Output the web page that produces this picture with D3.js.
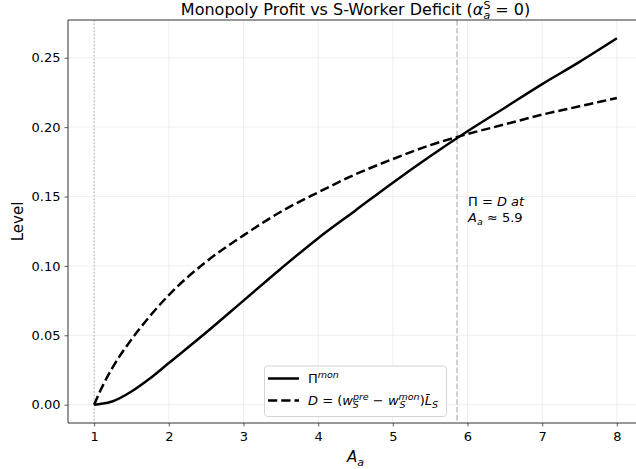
<!DOCTYPE html>
<html><head><meta charset="utf-8">
<script src="https://cdn.jsdelivr.net/npm/d3@7"></script>
<style>
body{margin:0;background:#fff;}
text{font-family:"DejaVu Sans",sans-serif;fill:#000;}
</style></head>
<body>
<svg id="c" width="636" height="469"></svg>
<script>
const A_vals = [1, 1.1, 1.25, 1.5, 1.75, 2, 2.5, 3, 3.5, 4, 4.5, 5, 5.5, 6, 6.5, 7, 7.5, 8];
const profit = [0, 0.0006, 0.0025, 0.0095, 0.019, 0.030, 0.052, 0.075, 0.098, 0.120, 0.140, 0.160, 0.179, 0.197, 0.214, 0.231, 0.247, 0.264];
const deficit = [0, 0.012, 0.027, 0.047, 0.064, 0.079, 0.103, 0.122, 0.139, 0.153, 0.166, 0.177, 0.187, 0.195, 0.202, 0.209, 0.215, 0.221];
const crossA = 5.86;
const xTicks = [1, 2, 3, 4, 5, 6, 7, 8];
const yTicks = [0, 0.05, 0.10, 0.15, 0.20, 0.25];

const svg = d3.select("#c");
const L = 68, R = 643, T = 20, B = 423;
const x = d3.scaleLinear().domain([0.65, 8.35]).range([L, R]);
const y = d3.scaleLinear().domain([-0.0132, 0.2772]).range([B, T]);

// grid
const grid = svg.append("g");
xTicks.forEach(t => grid.append("line").attr("x1", x(t)).attr("x2", x(t)).attr("y1", T).attr("y2", B).attr("stroke", "#ebebeb").attr("stroke-width", 0.8));
yTicks.forEach(t => grid.append("line").attr("x1", L).attr("x2", R).attr("y1", y(t)).attr("y2", y(t)).attr("stroke", "#ebebeb").attr("stroke-width", 0.8));

// reference lines
svg.append("line").attr("x1", x(1)).attr("x2", x(1)).attr("y1", T).attr("y2", B)
  .attr("stroke", "#b0b0b0").attr("stroke-width", 1).attr("stroke-dasharray", "1.5,2");
svg.append("line").attr("x1", x(crossA)).attr("x2", x(crossA)).attr("y1", T).attr("y2", B)
  .attr("stroke", "#c0c0c0").attr("stroke-width", 1.5).attr("stroke-dasharray", "5.5,2.4");

const line = d3.line().x((d, i) => x(A_vals[i])).y(d => y(d)).curve(d3.curveMonotoneX);
svg.append("path").attr("d", line(profit)).attr("fill", "none").attr("stroke", "#000").attr("stroke-width", 2.5);
svg.append("path").attr("d", line(deficit)).attr("fill", "none").attr("stroke", "#000").attr("stroke-width", 2.5).attr("stroke-dasharray", "9.25,4");

// axes
const xAxis = svg.append("g").attr("transform", `translate(0,${B})`).call(d3.axisBottom(x).tickValues(xTicks).tickSize(3.5).tickPadding(5).tickFormat(d3.format("d")));
const yAxis = svg.append("g").attr("transform", `translate(${L},0)`).call(d3.axisLeft(y).tickValues(yTicks).tickSize(3.5).tickPadding(4).tickFormat(d3.format(".2f")));
[xAxis, yAxis].forEach(g => {
  g.select(".domain").remove();
  g.selectAll("line").attr("stroke", "#333").attr("stroke-width", 0.8);
  g.selectAll("text").style("font-family", "DejaVu Sans").style("font-size", "13px").attr("fill", "#000");
});
// spines
svg.append("line").attr("x1", L).attr("x2", L).attr("y1", T).attr("y2", B).attr("stroke", "#333").attr("stroke-width", 1);
svg.append("line").attr("x1", L).attr("x2", R).attr("y1", B).attr("y2", B).attr("stroke", "#333").attr("stroke-width", 1);
svg.append("line").attr("x1", L).attr("x2", R).attr("y1", T).attr("y2", T).attr("stroke", "#333").attr("stroke-width", 1);

// title
const title = svg.append("text").attr("x", (L + R) / 2).attr("y", 14.5).attr("text-anchor", "middle").style("font-size", "16px");
title.append("tspan").text("Monopoly Profit vs S-Worker Deficit (");
title.append("tspan").attr("font-style", "italic").text("α");
title.append("tspan").attr("dy", -5.5).style("font-size", "11px").text("S");
title.append("tspan").attr("dx", -7).attr("dy", 9.5).style("font-size", "11px").attr("font-style", "italic").text("a");
title.append("tspan").attr("dy", -4).text(" = 0)");

// axis labels
const xl = svg.append("text").attr("x", (L + R) / 2).attr("y", 462).attr("text-anchor", "middle").style("font-size", "15px");
xl.append("tspan").attr("font-style", "italic").text("A");
xl.append("tspan").attr("dy", 4).style("font-size", "11px").attr("font-style", "italic").text("a");
svg.append("text").attr("transform", `translate(23,${(T + B) / 2}) rotate(-90)`).attr("text-anchor", "middle").style("font-size", "15px").text("Level");

// annotation
const an1 = svg.append("text").attr("x", 468).attr("y", 206).style("font-size", "13px");
an1.append("tspan").text("Π = ");
an1.append("tspan").attr("font-style", "italic").text("D at");
const an2 = svg.append("text").attr("x", 468).attr("y", 222).style("font-size", "13px");
an2.append("tspan").attr("font-style", "italic").text("A");
an2.append("tspan").attr("dy", 3).style("font-size", "9.5px").attr("font-style", "italic").text("a");
an2.append("tspan").attr("dy", -3).text(" ≈ 5.9");

// legend
const lg = svg.append("g");
lg.append("rect").attr("x", 264.5).attr("y", 366).attr("width", 182).attr("height", 50.5).attr("rx", 3)
  .attr("fill", "#fff").attr("fill-opacity", 0.85).attr("stroke", "#d5d5d5").attr("stroke-width", 1);
lg.append("line").attr("x1", 268).attr("x2", 299).attr("y1", 378.5).attr("y2", 378.5).attr("stroke", "#000").attr("stroke-width", 2.5);
lg.append("line").attr("x1", 268).attr("x2", 299).attr("y1", 400.5).attr("y2", 400.5).attr("stroke", "#000").attr("stroke-width", 2.5).attr("stroke-dasharray", "9.25,4");
const l1 = lg.append("text").attr("x", 308).attr("y", 383).style("font-size", "13px");
l1.append("tspan").text("Π");
l1.append("tspan").attr("dy", -5).style("font-size", "9.5px").attr("font-style", "italic").text("mon");
const l2 = lg.append("text").attr("x", 308).attr("y", 405).style("font-size", "13px");
l2.append("tspan").attr("font-style", "italic").text("D");
l2.append("tspan").text(" = (");
l2.append("tspan").attr("font-style", "italic").text("w");
l2.append("tspan").attr("dy", -5).style("font-size", "9.5px").attr("font-style", "italic").text("pre");
l2.append("tspan").attr("dx", -16).attr("dy", 8).style("font-size", "9.5px").attr("font-style", "italic").text("S");
l2.append("tspan").attr("dx", 10).attr("dy", -3).text(" − ");
l2.append("tspan").attr("font-style", "italic").text("w");
l2.append("tspan").attr("dy", -5).style("font-size", "9.5px").attr("font-style", "italic").text("mon");
l2.append("tspan").attr("dx", -20).attr("dy", 8).style("font-size", "9.5px").attr("font-style", "italic").text("S");
l2.append("tspan").attr("dx", 14).attr("dy", -3).text(")");
l2.append("tspan").attr("font-style", "italic").text("L̄");
l2.append("tspan").attr("dy", 3).style("font-size", "9.5px").attr("font-style", "italic").text("S");
</script>
</body></html>
